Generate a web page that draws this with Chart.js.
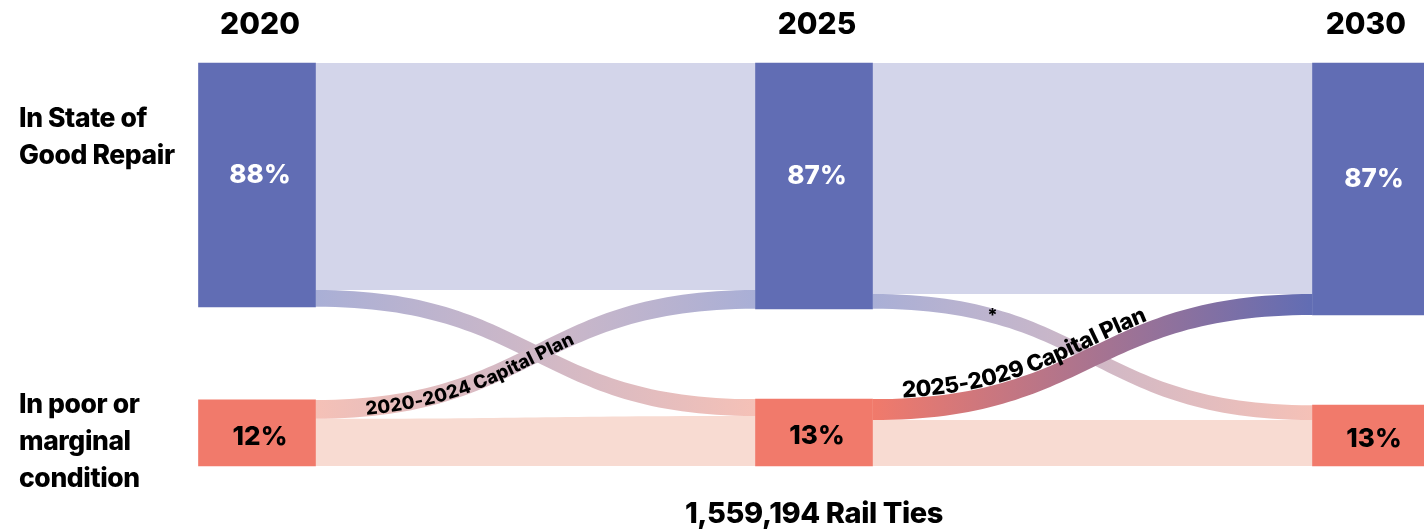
<!DOCTYPE html>
<html>
<head>
<meta charset="utf-8">
<script src="https://cdn.jsdelivr.net/npm/chart.js@4"></script>
<style>
  html, body { margin: 0; padding: 0; background: #fff; }
  #wrap { width: 1424px; height: 531px; }
</style>
</head>
<body>
<div id="wrap"><canvas id="tiesChart" width="1424" height="531"></canvas></div>
<script>
const years = [2020, 2025, 2030];
const goodShare = [88, 87, 87];
const poorShare = [12, 13, 13];
const rowLabels = [['In State of', 'Good Repair'], ['In poor or', 'marginal', 'condition']];

// band widths of the flows between two columns, in chart units
const stayGood = [56.3, 57.3];
const goodToPoor = [4.2, 3.7];
const poorToGood = [4.7, 5.2];
const stayPoor = [11.7, 11.4];
const planLabels = ['2020-2024 Capital Plan', '2025-2029 Capital Plan'];
const totalLabel = '1,559,194 Rail Ties';

const TOP = 100;
const BLUE = '#616db4';
const SALMON = '#f17a6b';
const LAVENDER = '#d3d5ea';
const PINK = '#f8dbd2';
const LIGHT_BLUE = '#a9afd6';
const LIGHT_PINK = '#f5c1b7';
const FONT = 'Inter, "Liberation Sans", Arial, sans-serif';
const NODE_W = 117;

function nodeSize(stay, cross, back) {
    return years.map((_, i) => {
        const inflow = i > 0 ? stay[i - 1] + back[i - 1] : 0;
        const outflow = i < stay.length ? stay[i] + cross[i] : 0;
        return Math.max(inflow, outflow);
    });
}
const goodSize = nodeSize(stayGood, goodToPoor, poorToGood);
const poorSize = nodeSize(stayPoor, poorToGood, goodToPoor);

const goodBars = years.map((yr, i) => ({ x: yr, y: [TOP - goodSize[i], TOP] }));
const poorBars = years.map((yr, i) => ({ x: yr, y: [0, poorSize[i]] }));

function ribbonPath(ctx, x1, a1, b1, x2, a2, b2) {
    const xm = (x1 + x2) / 2;
    ctx.beginPath();
    ctx.moveTo(x1, a1);
    ctx.bezierCurveTo(xm, a1, xm, a2, x2, a2);
    ctx.lineTo(x2, b2);
    ctx.bezierCurveTo(xm, b2, xm, b1, x1, b1);
    ctx.closePath();
}

function fillRibbon(ctx, x1, a1, b1, x2, a2, b2, c1, c2) {
    ribbonPath(ctx, x1, a1, b1, x2, a2, b2);
    if (c2) {
        const g = ctx.createLinearGradient(x1, 0, x2, 0);
        g.addColorStop(0, c1);
        g.addColorStop(1, c2);
        ctx.fillStyle = g;
    } else {
        ctx.fillStyle = c1;
    }
    ctx.fill();
}

function bez(p, t) {
    const u = 1 - t;
    return {
        x: u * u * u * p[0] + 3 * u * u * t * p[2] + 3 * u * t * t * p[4] + t * t * t * p[6],
        y: u * u * u * p[1] + 3 * u * u * t * p[3] + 3 * u * t * t * p[5] + t * t * t * p[7]
    };
}

function textOnCurve(ctx, text, p, startAt, baseline, shift) {
    const N = 400;
    const pts = [bez(p, 0)];
    const lens = [0];
    for (let i = 1; i <= N; i++) {
        const q = bez(p, i / N);
        const prev = pts[i - 1];
        lens.push(lens[i - 1] + Math.hypot(q.x - prev.x, q.y - prev.y));
        pts.push(q);
    }
    const at = s => {
        let k = 1;
        while (k < N && lens[k] < s) k++;
        const a = pts[k - 1], b = pts[k];
        const f = (s - lens[k - 1]) / ((lens[k] - lens[k - 1]) || 1);
        return { x: a.x + (b.x - a.x) * f, y: a.y + (b.y - a.y) * f, ang: Math.atan2(b.y - a.y, b.x - a.x) };
    };
    let s = startAt;
    ctx.textAlign = 'center';
    ctx.textBaseline = baseline;
    for (const ch of text) {
        const w = ctx.measureText(ch).width;
        const pt = at(s + w / 2);
        ctx.save();
        ctx.translate(pt.x, pt.y);
        ctx.rotate(pt.ang);
        ctx.fillText(ch, 0, shift);
        ctx.restore();
        s += w;
    }
}

const flowPlugin = {
    id: 'railFlows',
    beforeDatasetsDraw(chart) {
        const { ctx, scales: { x, y } } = chart;
        ctx.save();
        for (let p = 0; p < stayGood.length; p++) {
            const x1 = x.getPixelForValue(years[p]) + NODE_W / 2;
            const x2 = x.getPixelForValue(years[p + 1]) - NODE_W / 2;
            const gBot1 = TOP - goodSize[p], gBot2 = TOP - goodSize[p + 1];
            const pTop1 = poorSize[p], pTop2 = poorSize[p + 1];
            // staying in good repair
            fillRibbon(ctx, x1, y.getPixelForValue(TOP), y.getPixelForValue(gBot1 + goodToPoor[p]),
                x2, y.getPixelForValue(TOP), y.getPixelForValue(gBot2 + poorToGood[p]), LAVENDER);
            // staying poor
            fillRibbon(ctx, x1, y.getPixelForValue(pTop1 - poorToGood[p]), y.getPixelForValue(0),
                x2, y.getPixelForValue(pTop2 - goodToPoor[p]), y.getPixelForValue(0), PINK);
            // good -> poor
            fillRibbon(ctx, x1, y.getPixelForValue(gBot1 + goodToPoor[p]), y.getPixelForValue(gBot1),
                x2, y.getPixelForValue(pTop2), y.getPixelForValue(pTop2 - goodToPoor[p]), LIGHT_BLUE, LIGHT_PINK);
            // poor -> good
            const strong = p === stayGood.length - 1;
            fillRibbon(ctx, x1, y.getPixelForValue(pTop1), y.getPixelForValue(pTop1 - poorToGood[p]),
                x2, y.getPixelForValue(gBot2 + poorToGood[p]), y.getPixelForValue(gBot2),
                strong ? SALMON : LIGHT_PINK, strong ? BLUE : LIGHT_BLUE);
        }
        ctx.restore();
    },
    afterDatasetsDraw(chart) {
        const { ctx, scales: { x, y }, width } = chart;
        ctx.save();
        ctx.fillStyle = '#000';

        // plan labels along the returning flows
        for (let p = 0; p < stayGood.length; p++) {
            const x1 = x.getPixelForValue(years[p]) + NODE_W / 2;
            const x2 = x.getPixelForValue(years[p + 1]) - NODE_W / 2;
            const xm = (x1 + x2) / 2;
            const pTop1 = poorSize[p];
            const gBot2 = TOP - goodSize[p + 1];
            let ys, ye;
            if (p === 0) {
                ys = y.getPixelForValue(pTop1 - poorToGood[p] / 2);
                ye = y.getPixelForValue(gBot2 + poorToGood[p] / 2);
                ctx.font = '800 18.5px ' + FONT;
                textOnCurve(ctx, planLabels[p], [x1, ys, xm, ys, xm, ye, x2, ye], 50, 'middle', 2);
            } else {
                ys = y.getPixelForValue(pTop1);
                ye = y.getPixelForValue(gBot2 + poorToGood[p]);
                ctx.font = '800 22.5px ' + FONT;
                ctx.letterSpacing = '-0.3px';
                textOnCurve(ctx, planLabels[p], [x1, ys, xm, ys, xm, ye, x2, ye], 30, 'alphabetic', -1);
                ctx.letterSpacing = '0px';
            }
        }

        // asterisk on the second good -> poor flow
        {
            const p = 1;
            const x1 = x.getPixelForValue(years[p]) + NODE_W / 2;
            const x2 = x.getPixelForValue(years[p + 1]) - NODE_W / 2;
            const xm = (x1 + x2) / 2;
            const ys = y.getPixelForValue(TOP - goodSize[p] + goodToPoor[p] / 2);
            const ye = y.getPixelForValue(poorSize[p + 1] - goodToPoor[p] / 2);
            const pt = bez([x1, ys, xm, ys, xm, ye, x2, ye], 0.225);
            ctx.font = '800 18px ' + FONT;
            ctx.textAlign = 'center';
            ctx.textBaseline = 'middle';
            ctx.fillText('*', pt.x, pt.y);
        }

        // column headers and shares
        years.forEach((yr, i) => {
            const cx = x.getPixelForValue(yr);
            ctx.font = '800 30px ' + FONT;
            ctx.textAlign = 'center';
            ctx.textBaseline = 'alphabetic';
            const tw = ctx.measureText(String(yr)).width;
            ctx.fillText(String(yr), Math.min(cx + 3, width - 18 - tw / 2), 34);

            ctx.font = '800 26px ' + FONT;
            ctx.textBaseline = 'middle';
            ctx.fillStyle = '#fff';
            ctx.fillText(goodShare[i] + '%', cx + 3, y.getPixelForValue((TOP * 2 - goodSize[i]) / 2) - 10);
            ctx.fillStyle = '#000';
            ctx.fillText(poorShare[i] + '%', cx + 3, y.getPixelForValue(poorSize[i] / 2) + 4);
        });

        // row labels
        ctx.font = '800 26.5px ' + FONT;
        ctx.letterSpacing = '-0.4px';
        ctx.textAlign = 'left';
        ctx.textBaseline = 'alphabetic';
        rowLabels[0].forEach((line, k) => ctx.fillText(line, 19, 127 + k * 37));
        rowLabels[1].forEach((line, k) => ctx.fillText(line, 19, 413 + k * 37));

        // total
        ctx.font = '800 29px ' + FONT;
        ctx.textAlign = 'center';
        ctx.fillText(totalLabel, 814, 523);
        ctx.restore();
    }
};

const ctx = document.getElementById('tiesChart').getContext('2d');
new Chart(ctx, {
    type: 'bar',
    data: {
        datasets: [{
            label: 'In State of Good Repair',
            data: goodBars,
            backgroundColor: BLUE,
            grouped: false,
            barThickness: NODE_W,
            clip: false
        }, {
            label: 'In poor or marginal condition',
            data: poorBars,
            backgroundColor: SALMON,
            grouped: false,
            barThickness: NODE_W,
            clip: false
        }]
    },
    options: {
        responsive: false,
        animation: false,
        layout: { padding: { left: 257, right: 53, top: 63, bottom: 65 } },
        scales: {
            x: { type: 'linear', min: 2020, max: 2030, offset: false, display: false },
            y: { min: 0, max: TOP, display: false }
        },
        plugins: {
            legend: { display: false },
            tooltip: { enabled: false }
        }
    },
    plugins: [flowPlugin]
});
</script>
</body>
</html>
